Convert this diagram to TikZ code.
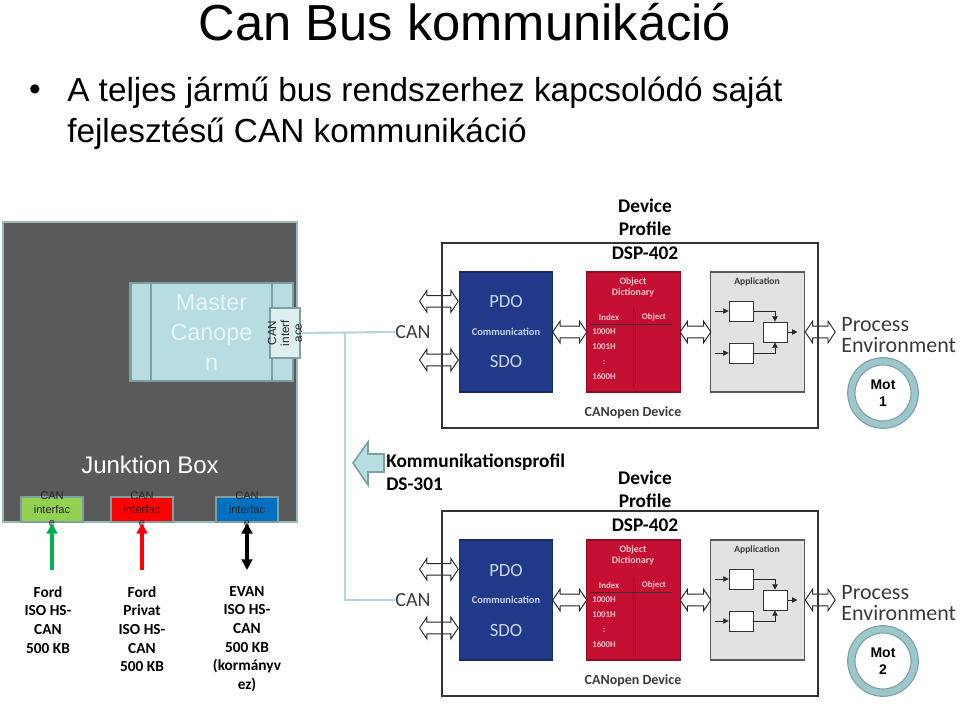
\documentclass[tikz,border=0pt]{standalone}
\usepackage{fontspec}
\setmainfont{Liberation Sans}
\newfontfamily\cali{Carlito}
\usetikzlibrary{positioning,calc,shapes.arrows,arrows.meta}

\definecolor{jboxgray}{HTML}{5A5A5A}
\definecolor{jboxedge}{HTML}{9DB6B8}
\definecolor{tealedge}{HTML}{7F9FA2}
\definecolor{mastercyan}{HTML}{B7DDE1}
\definecolor{masterwhite}{HTML}{E8F5F6}
\definecolor{canifpale}{HTML}{DFEFF0}
\definecolor{busteal}{HTML}{B3D7DA}
\definecolor{ringteal}{HTML}{9CC8CB}
\definecolor{pdoblue}{HTML}{22398A}
\definecolor{pdotext}{HTML}{C8D6F4}
\definecolor{odred}{HTML}{C40F32}
\definecolor{odtext}{HTML}{F6C6CF}
\definecolor{appgray}{HTML}{E2E2E2}
\definecolor{ifgreen}{HTML}{92D050}
\definecolor{ifred}{HTML}{FF0000}
\definecolor{ifblue}{HTML}{0070C0}
\definecolor{arrgreen}{HTML}{00B050}
\definecolor{devtext}{HTML}{3A3A3A}

\tikzset{
	blkbox/.style={draw=#1!75!black, fill=#1, line width=0.8pt, minimum width=70pt, minimum height=90pt, inner sep=0pt},
	minibox/.style={draw=black!80, fill=white, line width=0.6pt, minimum width=18pt, minimum height=15pt, inner sep=0pt},
	dblarr/.style={double arrow, draw=black!85, fill=white, line width=0.7pt, text height=8pt, text depth=0pt, double arrow head extend=3.75pt, double arrow tip angle=112, inner sep=0pt},
	appar/.style={-{Triangle[length=4pt,width=4pt]}, line width=0.6pt, black!85},
	ifbox/.style={draw=tealedge, fill=#1, line width=1.5pt, minimum width=46pt, minimum height=18.75pt, inner sep=0pt},
	iftext/.style={align=center, inner sep=0pt, text=black!85, font=\fontsize{8.3}{10}\selectfont},
	busarrow/.style={draw=#1, line width=3pt},
	busname/.style={anchor=north, align=center, inner sep=0pt, font=\cali\bfseries\fontsize{11.5}{14}\selectfont},
	busline/.style={draw=busteal, line width=1.6pt},
	profname/.style={align=center, inner sep=0pt, font=\cali\bfseries\fontsize{14.5}{17.6}\selectfont},
	motring/.style={circle, draw=tealedge, fill=ringteal, line width=0.8pt, minimum size=53pt, inner sep=0pt},
	motin/.style={circle, draw=tealedge, fill=white, line width=0.8pt, minimum size=42pt, inner sep=0pt, align=center, font=\bfseries\fontsize{10.5}{12.8}\selectfont}
}

\begin{document}
\begin{tikzpicture}[x=0.75pt, y=-0.75pt]
	\useasboundingbox (0,0) rectangle (960,707);

	\node[anchor=base, inner sep=0pt, font=\fontsize{38}{44}\selectfont] (title) at (465,40) {Can Bus kommunikáció};
	\node[inner sep=0pt, font=\fontsize{25}{30}\selectfont] (dot) at (35,93) {•};
	\node[anchor=north west, align=left, inner sep=0pt, font=\fontsize{25}{30.75}\selectfont] (intro) at (67,77) {A teljes jármű bus rendszerhez kapcsolódó saját\\fejlesztésű CAN kommunikáció};

	% Junktion Box with the master
	\node[draw=jboxedge, fill=jboxgray, line width=1.5pt, minimum width=220.5pt, minimum height=225pt, inner sep=0pt] (jbox) at (150,372) {};
	\node[draw=tealedge, fill=mastercyan, line width=2pt, minimum width=122pt, minimum height=73.5pt, inner sep=0pt] (master) at (211.5,332) {};
	\draw[tealedge, line width=2pt] (151,283) -- (151,381);
	\draw[tealedge, line width=2pt] (272,283) -- (272,381);
	\node[align=center, inner sep=0pt, text=masterwhite, font=\fontsize{17.5}{22.5}\selectfont] at (master) {Master\\Canope\\n};
	\node[draw=tealedge, fill=canifpale, line width=1.5pt, minimum width=22.5pt, minimum height=37.5pt, inner sep=0pt] (canif) at (285,333) {};
	\node[rotate=90, align=center, inner sep=0pt, text=black!85, font=\fontsize{8.8}{9.6}\selectfont] at (canif) {CAN\\interf\\ace};
	\node[inner sep=0pt, text=white, font=\fontsize{18}{21}\selectfont] (jlabel) at (150,465) {Junktion Box};

	\node[ifbox=ifgreen] (ifg) at (52,509.5) {};
	\node[ifbox=ifred] (ifr) at (142,509.5) {};
	\node[ifbox=ifblue] (ifb) at (247,509.5) {};
	\node[iftext] at (ifg) {CAN\\interfac\\e};
	\node[iftext] at (ifr) {CAN\\interfac\\e};
	\node[iftext] at (ifb) {CAN\\interfac\\e};

	\node[busname] (bus1) at (48,586) {Ford\\ISO HS-\\CAN\\500 KB};
	\node[busname] (bus2) at (142,586) {Ford\\Privat\\ISO HS-\\CAN\\500 KB};
	\node[busname] (bus3) at (247,586) {EVAN\\ISO HS-\\CAN\\500 KB\\(kormányv\\ez)};

	\draw[busarrow=arrgreen, -{Triangle[width=8pt,length=8pt]}] ($(ifg.south |- bus1.north)+(0,-16)$) -- (ifg.south);
	\draw[busarrow=ifred, -{Triangle[width=8pt,length=8pt]}] ($(ifr.south |- bus2.north)+(0,-16)$) -- (ifr.south);
	\draw[busarrow=black, {Triangle[width=8pt,length=8pt]}-{Triangle[width=8pt,length=8pt]}] (ifb.south) -- ($(ifb.south |- bus3.north)+(0,-16)$);

	% the two CANopen devices
	\foreach \dy/\m in {0/1,268/2}{
		\node[blkbox=pdoblue] (pdo\m) at (506,332+\dy) {};
		\node[blkbox=odred] (od\m) at (633.5,332+\dy) {};
		\node[blkbox=appgray, draw=black!65] (app\m) at (757.5,332+\dy) {};

		\node[inner sep=0pt, text=pdotext, font=\cali\fontsize{14}{16}\selectfont] at ([yshift=22.5pt]pdo\m.center) {PDO};
		\node[inner sep=0pt, text=pdotext, font=\cali\bfseries\fontsize{7.8}{9}\selectfont] at (pdo\m.center) {Communication};
		\node[inner sep=0pt, text=pdotext, font=\cali\fontsize{14}{16}\selectfont] at ([yshift=-22.5pt]pdo\m.center) {SDO};

		\node[align=center, inner sep=0pt, text=odtext, font=\cali\bfseries\fontsize{7.4}{8.4}\selectfont] at (633,287.5+\dy) {Object\\Dictionary};
		\node[inner sep=0pt, text=odtext, font=\cali\bfseries\fontsize{6.6}{8}\selectfont] at (609,317+\dy) {Index};
		\node[inner sep=0pt, text=odtext, font=\cali\bfseries\fontsize{6.6}{8}\selectfont] at (654,317+\dy) {Object};
		\draw[black!80, line width=0.7pt] (590,324+\dy) -- (672,324+\dy);
		\draw[black!80, line width=0.7pt] (633,309+\dy) -- (633,388+\dy);
		\node[align=center, inner sep=0pt, text=odtext, font=\cali\bfseries\fontsize{6.6}{11.2}\selectfont] at (604,354.5+\dy) {1000H\\1001H\\:\\1600H};

		\node[inner sep=0pt, text=devtext, font=\cali\bfseries\fontsize{7.2}{8}\selectfont] at (757,282+\dy) {Application};
		\node[minibox] (ba\m) at (741,311+\dy) {};
		\node[minibox] (bb\m) at (741,353+\dy) {};
		\node[minibox] (bc\m) at (775,332+\dy) {};
		\draw[appar] ([xshift=-10.5pt]ba\m.west) -- (ba\m.west);
		\draw[appar] ([xshift=-10.5pt]bb\m.west) -- (bb\m.west);
		\draw[appar] (ba\m.east) -| (bc\m.north);
		\draw[appar] (bb\m.east) -| (bc\m.south);
		\draw[appar] (bc\m.east) -- ([xshift=7.5pt]bc\m.east);

		\node[dblarr, minimum height=29pt, anchor=east] at ([yshift=23pt]pdo\m.west) {};
		\node[dblarr, minimum height=29pt, anchor=east] at ([yshift=-21pt]pdo\m.west) {};
		\node[dblarr, minimum height=25.5pt] at ($(pdo\m.east)!.5!(od\m.west)$) {};
		\node[dblarr, minimum height=23pt] at ($(od\m.east)!.5!(app\m.west)$) {};
		\node[dblarr, minimum height=22.5pt, anchor=west] (pe\m) at (app\m.east) {};

		\node[draw=black!80, line width=0.9pt, minimum width=282pt, minimum height=138.75pt, inner sep=0pt] (dev\m) at (630,335.5+\dy) {};
		\node[inner sep=0pt, text=devtext, font=\cali\bfseries\fontsize{10.5}{12}\selectfont] at (633,413+\dy) {CANopen Device};
		\node[inner sep=0pt, text=devtext, font=\cali\fontsize{15}{18}\selectfont] (can\m) at (413,332+\dy) {CAN};
		\node[anchor=west, align=left, inner sep=0pt, text=devtext, font=\cali\fontsize{16.5}{15.75}\selectfont] at ([xshift=4pt,yshift=-2pt]pe\m.east) {Process\\Environment};

		\node[motring] (motr\m) at (883,393+\dy) {};
		\node[motin] at (motr\m) {Mot\\\m};
	}

	\node[profname] (prof1) at (645,229) {Device\\Profile\\DSP-402};
	\node[profname] (prof2) at (645,501) {Device\\Profile\\DSP-402};

	% bus wiring and the profile arrow
	\coordinate (tap) at (345,333);
	\draw[busline] (canif.east) -- (can1.west);
	\draw[busline] (tap) |- (can2.west);
	\draw[draw=tealedge, fill=mastercyan, line width=1.2pt] (353,463) -- (368,442) -- (368,454) -- (384,454) -- (384,472) -- (368,472) -- (368,485) -- cycle;
	\node[anchor=west, align=left, inner sep=0pt, font=\cali\bfseries\fontsize{14.5}{17.25}\selectfont] (kprof) at (386,472.5) {Kommunikationsprofil\\DS-301};
\end{tikzpicture}
\end{document}
